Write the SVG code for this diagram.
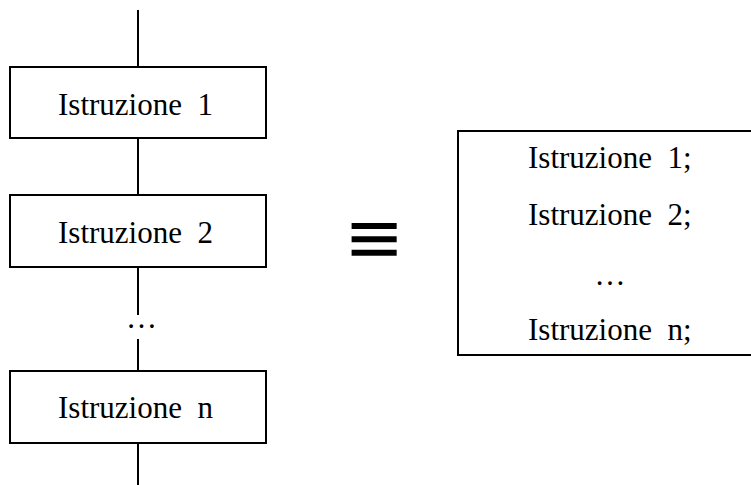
<svg xmlns="http://www.w3.org/2000/svg" width="751" height="485" viewBox="0 0 751 485">
  <style>
    .box { fill: #ffffff; stroke: #000000; stroke-width: 2; }
    .wire { stroke: #000000; stroke-width: 2; fill: none; }
    .lbl { font-family: "Liberation Serif", "Times New Roman", serif; font-size: 31px; fill: #000000; white-space: pre; }
    .mid { text-anchor: middle; }
  </style>
  <rect width="751" height="485" fill="#ffffff"/>

  <!-- connectors of the flow chain -->
  <g id="connectors">
    <line class="wire" x1="138" y1="10" x2="138" y2="67"/>
    <line class="wire" x1="138" y1="138" x2="138" y2="195"/>
    <line class="wire" x1="138" y1="267" x2="138" y2="315"/>
    <line class="wire" x1="138" y1="339" x2="138" y2="371"/>
    <line class="wire" x1="138" y1="443" x2="138" y2="485"/>
  </g>

  <g id="istr1">
    <rect class="box" x="10" y="67" width="256" height="71"/>
    <text class="lbl" x="58" y="115" xml:space="preserve">Istruzione  1</text>
  </g>

  <g id="istr2">
    <rect class="box" x="10" y="195" width="256" height="72"/>
    <text class="lbl" x="58" y="243" xml:space="preserve">Istruzione  2</text>
  </g>

  <g id="gap">
    <text class="lbl mid" x="141.5" y="328">…</text>
  </g>

  <g id="istrN">
    <rect class="box" x="10" y="371" width="256" height="72"/>
    <text class="lbl" x="58" y="418" xml:space="preserve">Istruzione  n</text>
  </g>

  <g id="equiv">
    <text x="374" y="262" text-anchor="middle" font-family="DejaVu Sans, sans-serif" font-size="72" fill="#000000">≡</text>
  </g>

  <g id="block">
    <rect class="box" x="458" y="131" width="300" height="224"/>
    <text class="lbl" x="528" y="168" xml:space="preserve">Istruzione  1;</text>
    <text class="lbl" x="528" y="225" xml:space="preserve">Istruzione  2;</text>
    <text class="lbl mid" x="610" y="285">…</text>
    <text class="lbl" x="528" y="340" xml:space="preserve">Istruzione  n;</text>
  </g>
</svg>
